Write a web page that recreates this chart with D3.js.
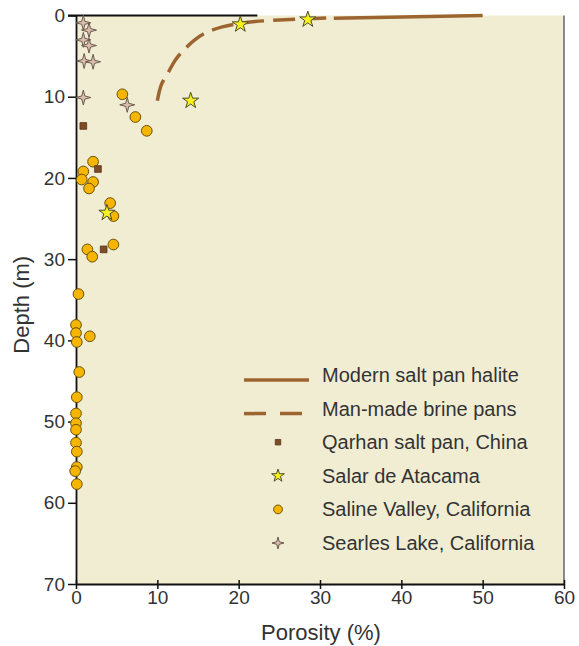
<!DOCTYPE html>
<html>
<head>
<meta charset="utf-8">
<script src="https://cdn.jsdelivr.net/npm/d3@7"></script>
<style>
  body { margin: 0; background: #fff; }
  text { font-family: "Liberation Sans", Arial, Helvetica, sans-serif; fill: #333; }
</style>
</head>
<body>
<svg id="chart" width="579" height="646"></svg>
<script>
// porosity (%) vs depth (m)
const modernHalite = [[31.7, 0.33], [50, 0.0]];
const brinePans = [[10, 10.5], [10.5, 8.5], [11.4, 6.9], [12.2, 5.5], [13.3, 4.2], [14.6, 3.0],
  [16, 2.1], [18, 1.4], [20, 1.0], [22, 0.75], [25, 0.55], [28, 0.4], [31, 0.3]];
const qarhan = [[0.9, 13.6], [2.7, 18.9], [3.4, 28.8]];
const atacama = [[20.2, 1.1], [28.5, 0.5], [14.1, 10.5], [3.8, 24.3]];
const salineValley = [[5.7, 9.7], [7.3, 12.5], [8.7, 14.2], [2.1, 18.0], [0.9, 19.2], [0.7, 20.2],
  [2.1, 20.5], [1.6, 21.3], [4.2, 23.1], [4.6, 24.7], [1.4, 28.8], [2.0, 29.7], [4.6, 28.2],
  [0.3, 34.3], [0, 38.1], [0, 39.1], [0.1, 40.2], [1.7, 39.5], [0.4, 43.9], [0.1, 47.0],
  [0, 49.0], [0, 50.2], [0, 51.0], [0, 52.6], [0.1, 53.7], [0.1, 55.6], [-0.1, 56.1], [0.1, 57.7]];
const searles = [[0.9, 0.9], [1.6, 1.8], [0.9, 3.0], [1.6, 3.7], [1.0, 5.6], [2.1, 5.7], [0.9, 10.1], [6.3, 11.0]];
const xTicks = [0, 10, 20, 30, 40, 50, 60];
const yTicks = [0, 10, 20, 30, 40, 50, 60, 70];
const topLineEnd = 22.3;

const svg = d3.select('#chart');
const pLeft = 76, pRight = 564, pTop = 15.5, pBottom = 584;

const x = d3.scaleLinear().domain([0, 60]).range([pLeft, pRight]);
const y = d3.scaleLinear().domain([0, 70]).range([pTop, pBottom]);

const brown = '#9c6530';

// plot background
svg.append('rect')
  .attr('x', pLeft).attr('y', pTop)
  .attr('width', pRight - pLeft).attr('height', pBottom - pTop)
  .attr('fill', '#f1edd3');

// right border
svg.append('line')
  .attr('x1', pRight).attr('x2', pRight)
  .attr('y1', pTop).attr('y2', pBottom)
  .attr('stroke', '#666').attr('stroke-width', 1.5);

// partial top line
svg.append('line')
  .attr('x1', pLeft - 8).attr('x2', x(topLineEnd))
  .attr('y1', pTop).attr('y2', pTop)
  .attr('stroke', '#111').attr('stroke-width', 2);

// axes
const xAxis = svg.append('g')
  .attr('transform', `translate(0,${pBottom})`)
  .call(d3.axisBottom(x).tickValues(xTicks).tickSize(5).tickPadding(2).tickSizeOuter(0));
xAxis.selectAll('.tick line').attr('y1', -4);

const yAxis = svg.append('g')
  .attr('transform', `translate(${pLeft},0)`)
  .call(d3.axisLeft(y).tickValues(yTicks).tickSize(8).tickPadding(3).tickSizeOuter(0));

[xAxis, yAxis].forEach(a => {
  a.select('.domain').attr('stroke', '#111').attr('stroke-width', 1.8);
  a.selectAll('.tick line').attr('stroke', '#111').attr('stroke-width', 1.5);
  a.selectAll('.tick text')
    .attr('font-size', 19)
    .attr('font-family', '"Liberation Sans", Arial, sans-serif')
    .attr('fill', '#333');
});

// axis titles
svg.append('text')
  .attr('x', (pLeft + pRight) / 2 + 1).attr('y', 640)
  .attr('text-anchor', 'middle')
  .attr('font-size', 22)
  .text('Porosity (%)');

svg.append('text')
  .attr('transform', `translate(29,${(pTop + pBottom) / 2 + 5}) rotate(-90)`)
  .attr('text-anchor', 'middle')
  .attr('font-size', 22)
  .text('Depth (m)');

// lines
svg.append('path')
  .datum(brinePans)
  .attr('d', d3.line().x(d => x(d[0])).y(d => y(d[1])).curve(d3.curveCatmullRom))
  .attr('fill', 'none')
  .attr('stroke', brown)
  .attr('stroke-width', 3.5)
  .attr('stroke-dasharray', '22 9');

svg.append('path')
  .datum(modernHalite)
  .attr('d', d3.line().x(d => x(d[0])).y(d => y(d[1])))
  .attr('fill', 'none')
  .attr('stroke', brown)
  .attr('stroke-width', 3.5);

// symbols
const fourStar = (r, ri) => {
  const pts = [];
  for (let i = 0; i < 8; i++) {
    const a = i * Math.PI / 4 - Math.PI / 2;
    const rr = i % 2 === 0 ? r : ri;
    pts.push([rr * Math.cos(a), rr * Math.sin(a)]);
  }
  return 'M' + pts.map(p => p.join(',')).join('L') + 'Z';
};
const star5 = s => d3.symbol().type(d3.symbolStar).size(s)();

const styles = {
  circle: { fill: '#f6b500', stroke: '#6b5208', sw: 1 },
  square: { fill: '#7d4c26', stroke: '#5a3518', sw: 0.8 },
  star: { fill: '#f8f21c', stroke: '#4a4a2a', sw: 1 },
  four: { fill: '#dcbcab', stroke: '#6b5a52', sw: 1 }
};

const drawPts = (data, kind, path) => {
  svg.append('g').selectAll('path')
    .data(data)
    .join('path')
    .attr('transform', d => `translate(${x(d[0])},${y(d[1])})`)
    .attr('d', path)
    .attr('fill', styles[kind].fill)
    .attr('stroke', styles[kind].stroke)
    .attr('stroke-width', styles[kind].sw);
};

drawPts(salineValley, 'circle', d3.symbol().type(d3.symbolCircle).size(90)());
drawPts(qarhan, 'square', d3.symbol().type(d3.symbolSquare).size(45)());
drawPts(searles, 'four', fourStar(7.5, 2.2));
drawPts(atacama, 'star', star5(80));

// legend
const legendItems = [
  { label: 'Modern salt pan halite', type: 'solid' },
  { label: 'Man-made brine pans', type: 'dash' },
  { label: 'Qarhan salt pan, China', type: 'square' },
  { label: 'Salar de Atacama', type: 'star' },
  { label: 'Saline Valley, California', type: 'circle' },
  { label: 'Searles Lake, California', type: 'four' }
];

const legend = svg.append('g').attr('transform', 'translate(244,375)');
legendItems.forEach((item, i) => {
  const g = legend.append('g').attr('transform', `translate(0,${i * 33.6})`);
  if (item.type === 'solid' || item.type === 'dash') {
    g.append('line')
      .attr('x1', 0).attr('x2', 65).attr('y1', 5).attr('y2', 5)
      .attr('stroke', brown).attr('stroke-width', 3.5)
      .attr('stroke-dasharray', item.type === 'dash' ? '22 14' : null);
  } else {
    const path = item.type === 'square' ? d3.symbol().type(d3.symbolSquare).size(30)()
      : item.type === 'star' ? star5(50)
      : item.type === 'circle' ? d3.symbol().type(d3.symbolCircle).size(60)()
      : fourStar(6, 1.8);
    g.append('path')
      .attr('transform', 'translate(34,0)')
      .attr('d', path)
      .attr('fill', styles[item.type].fill)
      .attr('stroke', styles[item.type].stroke)
      .attr('stroke-width', styles[item.type].sw);
  }
  g.append('text')
    .attr('x', 78).attr('y', 7)
    .attr('font-size', 20)
    .text(item.label);
});
</script>
</body>
</html>
